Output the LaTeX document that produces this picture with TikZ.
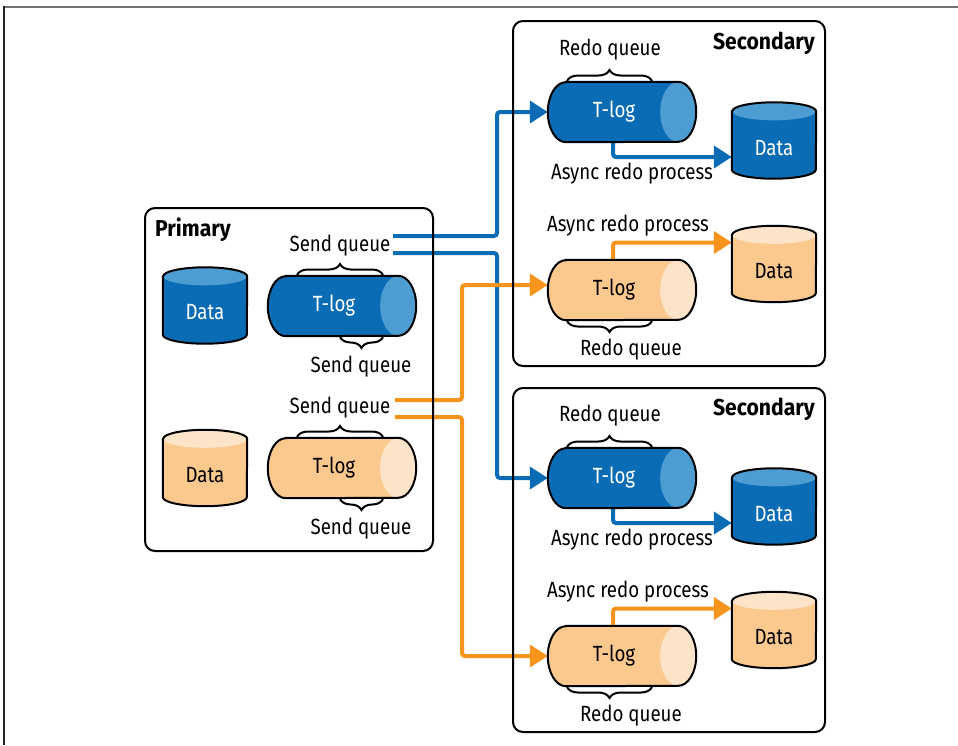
\documentclass[tikz,border=0pt]{standalone}
\usepackage{fontspec}
\setmainfont{Fira Sans}
\newfontfamily\condfont[FakeStretch=0.85]{Fira Sans}
\newfontfamily\hdrfont[FakeStretch=0.92]{Fira Sans}
\usetikzlibrary{calc,arrows.meta,decorations.pathreplacing}
\definecolor{tblue}{HTML}{0A6CB5}
\definecolor{tbluel}{HTML}{4E9DD2}
\definecolor{torange}{HTML}{F7941D}
\definecolor{tpeach}{HTML}{FBC98E}
\definecolor{tpeachl}{HTML}{FDE4C9}
\pgfdeclarelayer{lines}
\pgfdeclarelayer{shapes}
\pgfsetlayers{lines,shapes,main}

\newcommand\hcylshape[3]{%
  \begin{pgfonlayer}{shapes}
  \fill[#2] ($(#1.north west)+(18,0)$) -- ($(#1.north east)+(-18,0)$)
     arc[start angle=-90,end angle=90,x radius=18,y radius=30]
     -- ($(#1.south west)+(18,0)$)
     arc[start angle=90,end angle=270,x radius=18,y radius=30] -- cycle;
  \fill[#3] ($(#1.east)+(-18,0)$) ellipse[x radius=18,y radius=30];
  \draw[line width=2pt] ($(#1.north west)+(18,0)$) -- ($(#1.north east)+(-18,0)$)
     arc[start angle=-90,end angle=90,x radius=18,y radius=30]
     -- ($(#1.south west)+(18,0)$)
     arc[start angle=90,end angle=270,x radius=18,y radius=30] -- cycle;
  \end{pgfonlayer}}

\newcommand\vcylshape[3]{%
  \begin{pgfonlayer}{shapes}
  \fill[#2] ($(#1.north west)+(0,9)$) -- ($(#1.south west)+(0,-9)$)
     arc[start angle=180,end angle=0,x radius=42,y radius=9]
     -- ($(#1.north east)+(0,9)$)
     arc[start angle=0,end angle=-180,x radius=42,y radius=9] -- cycle;
  \fill[#3] ($(#1.north)+(0,9)$) ellipse[x radius=42,y radius=9];
  \draw[line width=2pt] ($(#1.north west)+(0,9)$) -- ($(#1.south west)+(0,-9)$)
     arc[start angle=180,end angle=0,x radius=42,y radius=9]
     -- ($(#1.north east)+(0,9)$)
     arc[start angle=0,end angle=-180,x radius=42,y radius=9] -- cycle;
  \end{pgfonlayer}}

\begin{document}
\begin{tikzpicture}[x=1pt,y=-1pt,
  txt/.style={inner sep=0pt, font=\condfont\fontsize{22}{26}\selectfont},
  lbl/.style={txt, yshift=-2pt},
  hdr/.style={inner sep=0pt, font=\hdrfont\fontsize{23}{27}\selectfont\bfseries},
  group/.style={draw, line width=2pt, rounded corners=10pt, inner sep=0pt},
  hcyl/.style={minimum width=148pt, minimum height=60pt, inner sep=0pt},
  vcyl/.style={minimum width=84pt, minimum height=76pt, inner sep=0pt},
  wtext/.style={txt, text=white},
  btext/.style={txt, text=black},
  conn/.style={line width=4pt, rounded corners=3pt, -{Triangle[length=18pt,width=22pt]}},
  bconn/.style={conn, draw=tblue},
  oconn/.style={conn, draw=torange},
  brc/.style={decorate, decoration={brace, amplitude=11pt}, line width=2pt}
]
\useasboundingbox (0,0) rectangle (958,745);
% outer frame
\draw[black!55, line width=2pt] (3,6.5) -- (958,6.5);
\draw[black!85, line width=1.5pt] (4,6) -- (4,745);

% group boxes
\node[group, minimum width=288pt, minimum height=343pt] (prim) at (289,379.5) {};
\node[group, minimum width=312pt, minimum height=345pt] (sec1) at (669,193.5) {};
\node[group, minimum width=312pt, minimum height=344pt] (sec2) at (669,560) {};
\node[hdr, anchor=west] (primt) at (155,230) {Primary};
\node[hdr, anchor=east] (sec1t) at (815,43) {Secondary};
\node[hdr, anchor=east] (sec2t) at (815,409) {Secondary};

% primary cylinders
\node[vcyl, label={[wtext,yshift=-7pt]center:Data}] (pd1) at (205,305.5) {};
\node[vcyl, label={[btext,yshift=-7pt]center:Data}] (pd2) at (205,468) {};
\node[hcyl, label={[wtext,xshift=-8pt]center:T-log}] (pt1) at (342,306) {};
\node[hcyl, label={[btext,xshift=-8pt]center:T-log}] (pt2) at (342,468) {};
\vcylshape{pd1}{tblue}{tbluel}
\vcylshape{pd2}{tpeach}{tpeachl}
\hcylshape{pt1}{tblue}{tbluel}
\hcylshape{pt2}{tpeach}{tpeachl}
\node[lbl] (sq1a) at (340,244) {Send queue};
\node[lbl] (sq1b) at (361,365) {Send queue};
\node[lbl] (sq2a) at (340,406) {Send queue};
\node[lbl] (sq2b) at (361,527) {Send queue};
\draw[brc] (297,275) -- (383,275);
\draw[brc] (383,337) -- (340,337);
\draw[brc] (297,437) -- (383,437);
\draw[brc] (383,499) -- (340,499);

% secondary 1
\node[hcyl, label={[wtext,xshift=-8pt]center:T-log}] (st1) at (622,112) {};
\node[hcyl, label={[btext,xshift=-8pt]center:T-log}] (ot1) at (622,290) {};
\node[vcyl, label={[wtext,yshift=-8pt]center:Data}] (sd1) at (774,140.5) {};
\node[vcyl, label={[btext,yshift=-7pt]center:Data}] (od1) at (774,264) {};
\hcylshape{st1}{tblue}{tbluel}
\hcylshape{ot1}{tpeach}{tpeachl}
\vcylshape{sd1}{tblue}{tbluel}
\vcylshape{od1}{tpeach}{tpeachl}
\node[lbl] (rq1a) at (610,48) {Redo queue};
\node[lbl] (ar1a) at (632,172) {Async redo process};
\node[lbl] (ar1b) at (628,224) {Async redo process};
\node[lbl] (rq1b) at (631,348) {Redo queue};
\draw[brc] (567,81) -- (652,81);
\draw[brc] (652,321) -- (567,321);

% secondary 2
\node[hcyl, label={[wtext,xshift=-8pt]center:T-log}] (st2) at (622,478) {};
\node[hcyl, label={[btext,xshift=-8pt]center:T-log}] (ot2) at (622,656) {};
\node[vcyl, label={[wtext,yshift=-8pt]center:Data}] (sd2) at (774,506.5) {};
\node[vcyl, label={[btext,yshift=-7pt]center:Data}] (od2) at (774,630) {};
\hcylshape{st2}{tblue}{tbluel}
\hcylshape{ot2}{tpeach}{tpeachl}
\vcylshape{sd2}{tblue}{tbluel}
\vcylshape{od2}{tpeach}{tpeachl}
\node[lbl] (rq2a) at (610,414) {Redo queue};
\node[lbl] (ar2a) at (632,538) {Async redo process};
\node[lbl] (ar2b) at (628,590) {Async redo process};
\node[lbl] (rq2b) at (631,714) {Redo queue};
\draw[brc] (567,447) -- (652,447);
\draw[brc] (652,687) -- (567,687);

% connectors
\coordinate (b1) at (393,236);
\coordinate (b2) at (393,253);
\coordinate (o1) at (395,400);
\coordinate (o2) at (395,417);
\begin{pgfonlayer}{lines}
\draw[bconn] (b1) -- ++(104,0) |- (st1.west);
\draw[bconn] (b2) -- ++(104,0) |- (st2.west);
\draw[oconn] (o1) -- ++(67,0) |- ($(ot1.west)+(0,-5)$);
\draw[oconn] (o2) -- ++(67,0) |- (ot2.west);
\draw[bconn] ($(st1.south)+(-9,0)$) |- ($(sd1.west)+(0,16.5)$);
\draw[oconn] ($(ot1.north)+(-9,0)$) |- ($(od1.west)+(0,-21.5)$);
\draw[bconn] ($(st2.south)+(-9,0)$) |- ($(sd2.west)+(0,16.5)$);
\draw[oconn] ($(ot2.north)+(-9,0)$) |- ($(od2.west)+(0,-21.5)$);
\end{pgfonlayer}
\end{tikzpicture}
\end{document}
